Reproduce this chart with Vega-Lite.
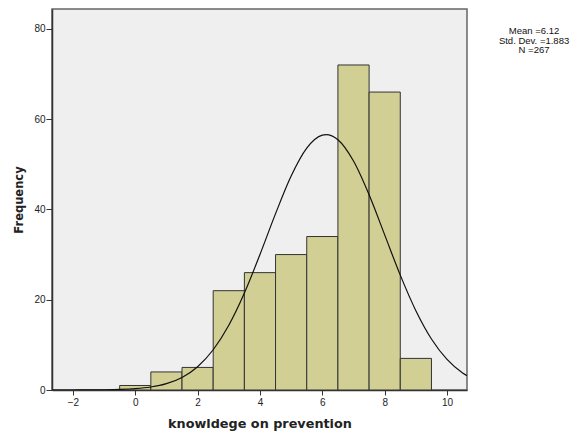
{
  "$schema": "https://vega.github.io/schema/vega-lite/v6.json",
  "width": 415,
  "height": 381,
  "autosize": {"type": "none"},
  "padding": {"left": 52, "top": 9, "right": 116, "bottom": 42},
  "background": "white",
  "config": {
    "view": {"stroke": "#666", "strokeWidth": 1.5, "fill": "#efefef"},
    "font": "Liberation Sans"
  },
  "datasets": {
    "bars": [
      {"lo": -0.5, "hi": 0.5, "count": 1},
      {"lo": 0.5, "hi": 1.5, "count": 4},
      {"lo": 1.5, "hi": 2.5, "count": 5},
      {"lo": 2.5, "hi": 3.5, "count": 22},
      {"lo": 3.5, "hi": 4.5, "count": 26},
      {"lo": 4.5, "hi": 5.5, "count": 30},
      {"lo": 5.5, "hi": 6.5, "count": 34},
      {"lo": 6.5, "hi": 7.5, "count": 72},
      {"lo": 7.5, "hi": 8.5, "count": 66},
      {"lo": 8.5, "hi": 9.5, "count": 7}
    ],
    "curve": [
      {"x": -2.67, "y": 0.001},
      {"x": -2, "y": 0.005},
      {"x": -1.5, "y": 0.016},
      {"x": -1, "y": 0.045},
      {"x": -0.5, "y": 0.117},
      {"x": 0, "y": 0.287},
      {"x": 0.5, "y": 0.658},
      {"x": 1, "y": 1.404},
      {"x": 1.5, "y": 2.788},
      {"x": 2, "y": 5.164},
      {"x": 2.5, "y": 8.914},
      {"x": 3, "y": 14.34},
      {"x": 3.5, "y": 21.49},
      {"x": 4, "y": 30.02},
      {"x": 4.5, "y": 39.07},
      {"x": 5, "y": 47.40},
      {"x": 5.5, "y": 53.58},
      {"x": 6, "y": 56.46},
      {"x": 6.12, "y": 56.57},
      {"x": 6.5, "y": 55.43},
      {"x": 7, "y": 50.72},
      {"x": 7.5, "y": 43.25},
      {"x": 8, "y": 34.37},
      {"x": 8.5, "y": 25.45},
      {"x": 9, "y": 17.57},
      {"x": 9.5, "y": 11.30},
      {"x": 10, "y": 6.77},
      {"x": 10.5, "y": 3.78},
      {"x": 10.64, "y": 3.17}
    ]
  },
  "layer": [
    {
      "data": {"name": "bars"},
      "mark": {"type": "bar", "fill": "#d2cf95", "stroke": "#333333", "strokeWidth": 1},
      "encoding": {
        "x": {
          "field": "lo", "type": "quantitative",
          "scale": {"domain": [-2.67, 10.64], "nice": false, "zero": false},
          "axis": {
            "values": [-2, 0, 2, 4, 6, 8, 10],
            "grid": false,
            "title": "knowldege on prevention",
            "titleFont": "DejaVu Sans",
            "titleFontSize": 12.8,
            "titleFontWeight": "bold",
            "titleColor": "#222",
            "titlePadding": 10,
            "labelFontSize": 10,
            "labelColor": "#222",
            "labelPadding": 2,
            "tickSize": 5,
            "tickColor": "#333",
            "domainColor": "#333",
            "domainWidth": 1.5
          }
        },
        "x2": {"field": "hi"},
        "y": {
          "field": "count", "type": "quantitative",
          "scale": {"domain": [0, 84.4], "nice": false},
          "axis": {
            "values": [0, 20, 40, 60, 80],
            "grid": false,
            "title": "Frequency",
            "titleFont": "DejaVu Sans",
            "titleFontSize": 11.5,
            "titleFontWeight": "bold",
            "titleColor": "#222",
            "titlePadding": 9,
            "labelFontSize": 10,
            "labelColor": "#222",
            "labelPadding": 1,
            "tickSize": 6,
            "tickColor": "#333",
            "domainColor": "#333",
            "domainWidth": 1.5
          }
        },
        "y2": {"datum": 0}
      }
    },
    {
      "data": {"name": "curve"},
      "mark": {"type": "line", "color": "#111", "strokeWidth": 1.2, "interpolate": "monotone", "clip": true},
      "encoding": {
        "x": {"field": "x", "type": "quantitative"},
        "y": {"field": "y", "type": "quantitative"}
      }
    },
    {
      "data": {"values": [{}]},
      "mark": {
        "type": "text",
        "text": ["Mean =6.12", "Std. Dev. =1.883", "N =267"],
        "align": "center",
        "baseline": "top",
        "fontSize": 9.5,
        "lineHeight": 9.5,
        "color": "#111"
      },
      "encoding": {
        "x": {"datum": 12.79, "type": "quantitative"},
        "y": {"datum": 80.6, "type": "quantitative"}
      }
    }
  ]
}
